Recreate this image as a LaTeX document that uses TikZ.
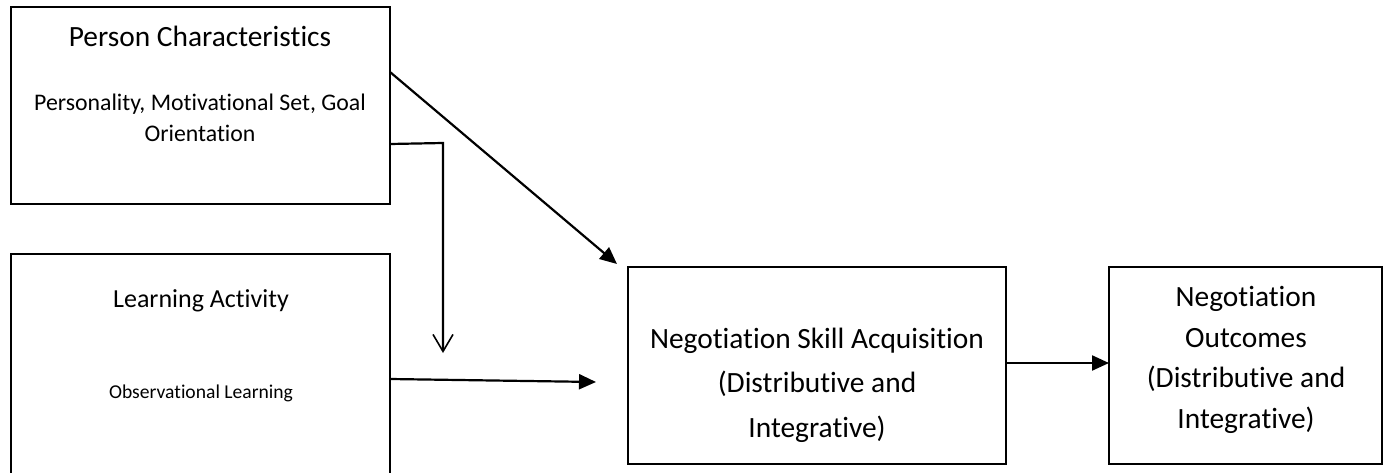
\documentclass[tikz,border=0pt]{standalone}
\usepackage{fontspec}
\setmainfont{Carlito}[Ligatures=NoCommon]
\usetikzlibrary{arrows.meta}
\begin{document}
\begin{tikzpicture}[x=1pt,y=-1pt,
  box/.style={draw=black, line width=2.2pt, inner sep=0pt, outer sep=0pt, anchor=north west, fill=none},
  txt/.style={inner sep=0pt, outer sep=0pt, anchor=base, align=center},
  conn/.style={line width=2.2pt},
  fillarr/.style={conn, -{Triangle[length=17pt,width=15pt]}},
  openarr/.style={conn, -{Straight Barb[length=17pt,width=20pt,line width=1.6pt]}}]
\useasboundingbox (0,0) rectangle (1388,473);
\fill[white] (0,0) rectangle (1388,473);
% boxes
\node[box, minimum width=379pt, minimum height=197pt] (pc) at (11,7) {};
\node[box, minimum width=379pt, minimum height=240pt] (la) at (11,254) {};
\node[box, minimum width=378pt, minimum height=197pt] (nsa) at (628,267) {};
\node[box, minimum width=273pt, minimum height=197pt] (no) at (1109,267) {};
% texts
\node[txt, font=\fontsize{29.4}{44}\selectfont] (pct) at (200,47) {Person Characteristics};
\node[txt, font=\fontsize{23.8}{31}\selectfont] (pcs) at (200,142) {Personality, Motivational Set, Goal\\Orientation};
\node[txt, font=\fontsize{26}{44}\selectfont] (lat) at (201,307) {Learning Activity};
\node[txt, font=\fontsize{19.6}{30}\selectfont] (las) at (201,398) {Observational Learning};
\node[txt, font=\fontsize{29.4}{44.5}\selectfont] (nsat) at (817,437) {Negotiation Skill Acquisition\\(Distributive and\\Integrative)};
\node[txt, font=\fontsize{29.4}{40.5}\selectfont] (not) at (1246,428) {Negotiation\\Outcomes\\(Distributive and\\Integrative)};
% connectors
\coordinate (t1) at (617,264);
\coordinate (k2) at (443,143);
\coordinate (t2) at (443,353);
\coordinate (t3) at (596,382);
\draw[fillarr] (pc.east |- {(0,72)}) -- (t1);
\draw[openarr] (pc.east |- {(0,144)}) -- (k2) -- (t2);
\draw[fillarr] (la.east |- {(0,379)}) -- (t3);
\draw[fillarr] (nsa.east |- {(0,363)}) -- (no.west |- {(0,363)});
\end{tikzpicture}
\end{document}
